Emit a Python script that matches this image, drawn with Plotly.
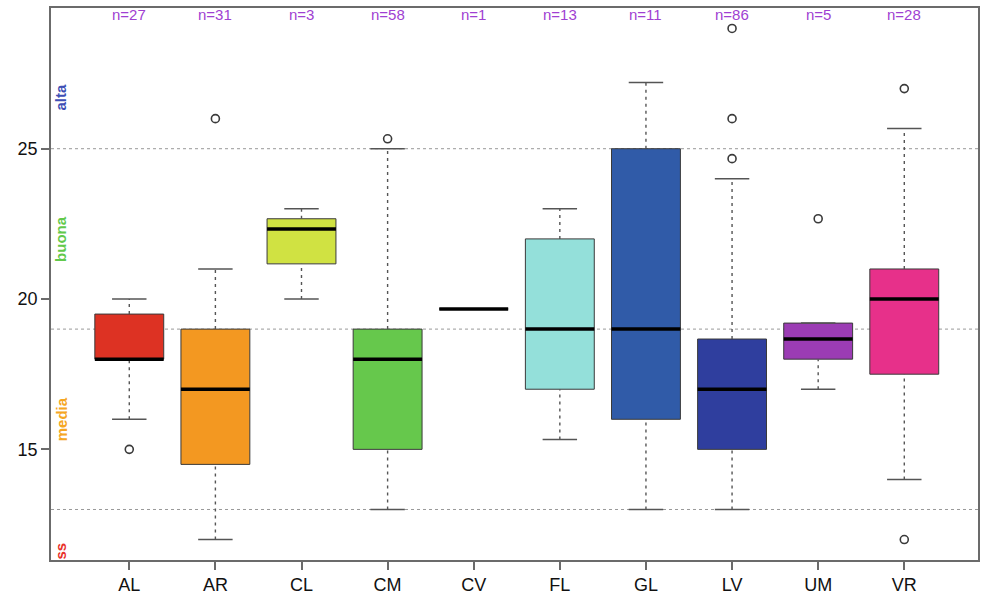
import plotly.graph_objects as go

# ---- data ----
categories = ["AL", "AR", "CL", "CM", "CV", "FL", "GL", "LV", "UM", "VR"]
counts = [27, 31, 3, 58, 1, 13, 11, 86, 5, 28]
lower_whisker = [16, 12, 20, 13, 19.67, 15.33, 13, 13, 17, 14]
q1 = [18, 14.5, 21.17, 15, 19.67, 17, 16, 15, 18, 17.5]
median = [18, 17, 22.33, 18, 19.67, 19, 19, 17, 18.67, 20]
q3 = [19.5, 19, 22.67, 19, 19.67, 22, 25, 18.67, 19.2, 21]
upper_whisker = [20, 21, 23, 25, 19.67, 23, 27.2, 24, 19.2, 25.67]
outliers = [[15], [26], [], [25.33], [], [], [], [24.67, 26, 29], [22.67], [12, 27]]
box_colors = ["#DD3223", "#F39821", "#D0E242", "#66C84C", "#8FD8D2",
              "#94E0DA", "#305BA8", "#2F3E9E", "#9B3CB4", "#E7308A"]
class_lines = [13, 19, 25]
class_labels = ["ss", "media", "buona", "alta"]
class_label_pos = [11.6, 16.0, 22.0, 26.7]
class_label_colors = ["#E8312A", "#F5A623", "#62C94B", "#3E4FB5"]
y_ticks = [15, 20, 25]

FONT = "Liberation Sans, Arial, Helvetica, sans-serif"
pos = list(range(len(categories)))
BOXW = 0.8
CAPW = 0.4

fig = go.Figure()

# whiskers (dashed)
wx, wy = [], []
for i in pos:
    if upper_whisker[i] > q3[i]:
        wx += [i, i, None]; wy += [q3[i], upper_whisker[i], None]
    if lower_whisker[i] < q1[i]:
        wx += [i, i, None]; wy += [lower_whisker[i], q1[i], None]
fig.add_trace(go.Scatter(x=wx, y=wy, mode="lines",
                         line=dict(color="#555555", width=1.4, dash="3px,4px"),
                         hoverinfo="skip", showlegend=False))

# boxes
fig.add_trace(go.Bar(x=pos, base=q1, y=[b - a for a, b in zip(q1, q3)],
                     width=BOXW, marker=dict(color=box_colors,
                                             line=dict(color="#3a3a3a", width=1)),
                     showlegend=False, hoverinfo="skip"))

# caps
cx, cy = [], []
for i in pos:
    if counts[i] > 1:
        for v in (lower_whisker[i], upper_whisker[i]):
            cx += [i - CAPW / 2, i + CAPW / 2, None]; cy += [v, v, None]
fig.add_trace(go.Scatter(x=cx, y=cy, mode="lines",
                         line=dict(color="#555555", width=1.5),
                         hoverinfo="skip", showlegend=False))

# medians
mx, my = [], []
for i in pos:
    mx += [i - BOXW / 2, i + BOXW / 2, None]; my += [median[i], median[i], None]
fig.add_trace(go.Scatter(x=mx, y=my, mode="lines",
                         line=dict(color="#000000", width=3.5),
                         hoverinfo="skip", showlegend=False))

# outliers
ox, oy = [], []
for i in pos:
    for v in outliers[i]:
        ox.append(i); oy.append(v)
fig.add_trace(go.Scatter(x=ox, y=oy, mode="markers",
                         marker=dict(symbol="circle-open", size=8, color="#3a3a3a",
                                     line=dict(width=1.6, color="#3a3a3a")),
                         hoverinfo="skip", showlegend=False))

# class separator lines
for v in class_lines:
    fig.add_shape(type="line", xref="paper", x0=0, x1=1, yref="y", y0=v, y1=v,
                  line=dict(color="#999999", width=1, dash="dot"), layer="below")

annotations = []
for i in pos:
    annotations.append(dict(x=i, y=1, xref="x", yref="paper", yanchor="top",
                            yshift=4, text=f"n={counts[i]}", showarrow=False,
                            font=dict(family=FONT, size=15, color="#A03FD2")))
for lab, yv, col in zip(class_labels, class_label_pos, class_label_colors):
    annotations.append(dict(x=0, y=yv, xref="paper", yref="y", xanchor="center",
                            xshift=10, text=f"<b>{lab}</b>", textangle=-90,
                            showarrow=False,
                            font=dict(family=FONT, size=15, color=col)))

fig.update_layout(
    width=982, height=600,
    margin=dict(l=51, r=4, t=8, b=40),
    paper_bgcolor="white", plot_bgcolor="white",
    font=dict(family=FONT, size=18, color="#111111"),
    annotations=annotations,
    xaxis=dict(range=[-0.909, 9.856], tickmode="array", tickvals=pos,
               ticktext=categories, showgrid=False, zeroline=False,
               showline=True, linecolor="#6b6b6b", linewidth=1.5, mirror=True,
               ticks="outside", ticklen=8, tickcolor="#6b6b6b", tickwidth=1.5,
               tickfont=dict(size=18), automargin=False),
    yaxis=dict(range=[11.32, 29.68], tickmode="array", tickvals=y_ticks,
               showgrid=False, zeroline=False,
               showline=True, linecolor="#6b6b6b", linewidth=1.5, mirror=True,
               ticks="outside", ticklen=8, tickcolor="#6b6b6b", tickwidth=1.5,
               tickfont=dict(size=18), automargin=False),
)

fig.write_html("out.html", config={"displayModeBar": False},
               post_script="document.body.style.margin='0';document.body.style.overflow='hidden';")
